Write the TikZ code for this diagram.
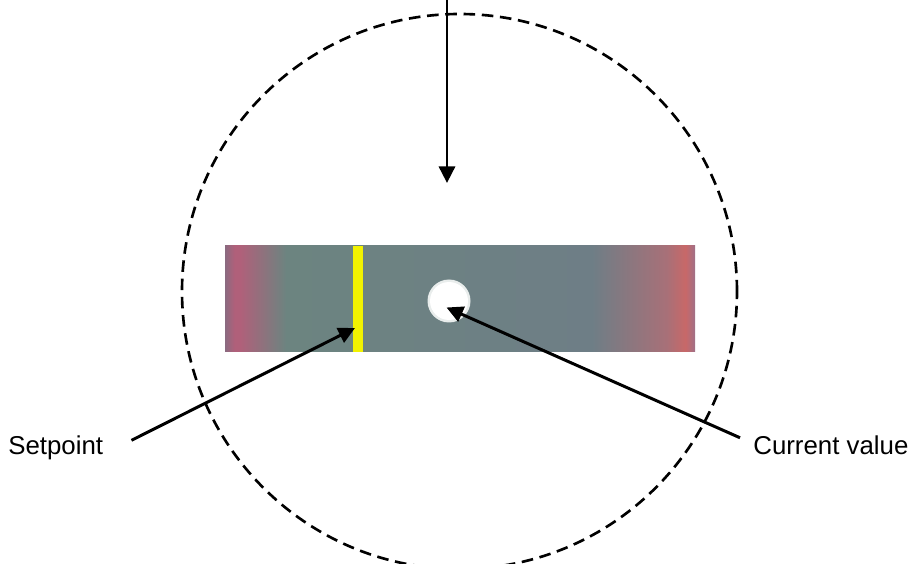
\documentclass[tikz,border=0pt]{standalone}
\usepackage{fontspec}
\setmainfont{Liberation Sans}
\usetikzlibrary{arrows.meta}

\definecolor{barleft}{HTML}{8A6A80}
\definecolor{barred}{HTML}{B0607A}
\definecolor{bargray}{HTML}{6C8480}
\definecolor{barblue}{HTML}{6E7E86}
\definecolor{barpink}{HTML}{A87078}
\definecolor{barredr}{HTML}{C86868}
\definecolor{barright}{HTML}{A07088}
\definecolor{markyellow}{HTML}{F2F200}

\pgfdeclarehorizontalshading{barshade}{100bp}{%
  color(0bp)=(barleft); color(25bp)=(barleft); color(26bp)=(barred);
  color(26.6bp)=(barred); color(31.5bp)=(bargray); color(64bp)=(barblue);
  color(72bp)=(barpink); color(74bp)=(barredr); color(75bp)=(barright);
  color(100bp)=(barright)}

\tikzset{
  pointer/.style={line width=1.7pt, -{Triangle[length=0.33cm,width=0.32cm]}},
  lbl/.style={inner sep=0pt, anchor=base west, font=\fontsize{14.7}{17}\selectfont}
}

\begin{document}
\begin{tikzpicture}
  \useasboundingbox (0,0) rectangle (18.26,11.28);
  \draw[line width=1.5pt, dash pattern=on 6.6pt off 3.8pt] (9.19,5.45) circle (5.55);
  \node[shading=barshade, minimum width=9.4cm, minimum height=2.12cm, inner sep=0pt] (bar) at (9.2,5.30) {};
  \node[fill=markyellow, minimum width=0.2cm, minimum height=2.12cm, inner sep=0pt] (mark) at (7.16,5.30) {};
  \fill[white!85!bargray] (8.98,5.26) circle (0.43);
  \node[circle, fill=white, minimum size=0.76cm, inner sep=0pt] (knob) at (8.98,5.26) {};
  \node[lbl] (setpoint) at (0.16,2.18) {Setpoint};
  \node[lbl] (current) at (15.06,2.18) {Current value};
  \coordinate (top) at (8.94,11.28);
  \coordinate (toptip) at (8.94,7.62);
  \coordinate (sptip) at (7.1,4.72);
  \coordinate (cvtip) at (8.93,5.13);
  \draw[pointer] (top) -- (toptip);
  \draw[pointer] ([xshift=0.56cm,yshift=0.16cm]setpoint.east) -- (sptip);
  \draw[pointer] ([xshift=-0.26cm,yshift=0.16cm]current.west) -- (cvtip);
\end{tikzpicture}
\end{document}
